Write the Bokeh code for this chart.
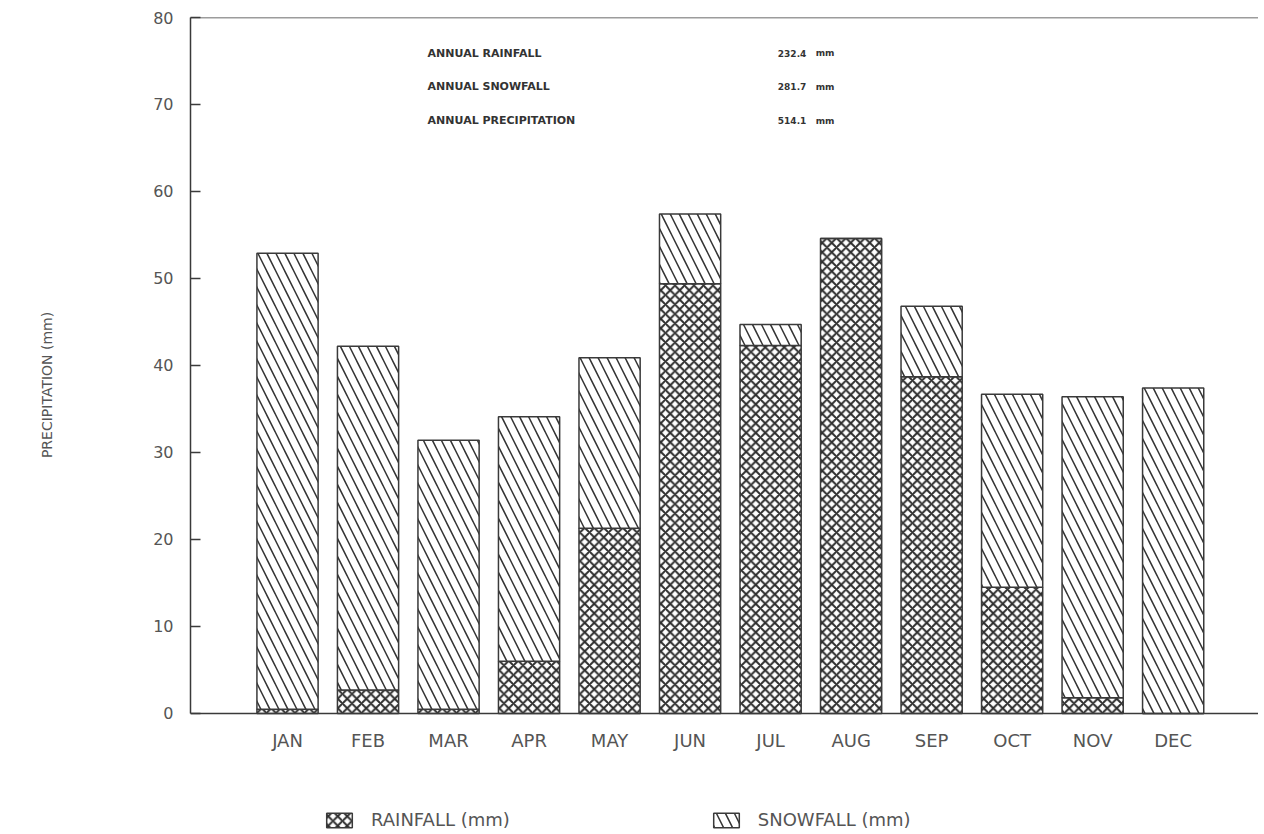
from bokeh.plotting import figure
from bokeh.models import (ColumnDataSource, Range1d, FixedTicker, Legend, LegendItem,
                          Label, Span)
from bokeh.core.properties import value
from bokeh.embed import file_html
from bokeh.resources import INLINE

# ---- data ----
months = ["JAN", "FEB", "MAR", "APR", "MAY", "JUN", "JUL", "AUG", "SEP", "OCT", "NOV", "DEC"]
rainfall = [0.5, 2.7, 0.5, 6.0, 21.3, 49.4, 42.3, 54.6, 38.7, 14.5, 1.8, 0.0]
snowfall = [52.4, 39.5, 30.9, 28.1, 19.6, 8.0, 2.4, 0.0, 8.1, 22.2, 34.6, 37.4]
y_ticks = [0, 10, 20, 30, 40, 50, 60, 70, 80]
annual_names = ["ANNUAL RAINFALL", "ANNUAL SNOWFALL", "ANNUAL PRECIPITATION"]
annual_values = ["232.4", "281.7", "514.1"]
annual_unit = "mm"

xs = list(range(len(months)))
totals = [r + s for r, s in zip(rainfall, snowfall)]
src = ColumnDataSource(dict(x=xs, month=months, rain=rainfall, snow=snowfall, total=totals,
                            zero=[0] * len(xs)))

FONT = "DejaVu Sans"
INK = "#3a3a3a"
TXT = "#555555"

p = figure(frame_width=1068, frame_height=815, output_backend="svg", toolbar_location=None,
           x_range=Range1d(-1.205, 12.06), y_range=Range1d(-13.68, 80),
           min_border_left=190, min_border_right=0, min_border_top=17,
           min_border_bottom=0)
p.outline_line_color = None
p.grid.visible = False
p.xaxis.visible = False
p.background_fill_color = "white"
p.border_fill_color = "white"

r_rain = p.vbar(x="x", bottom="zero", top="rain", width=0.76, source=src,
                fill_color="white", line_color=INK, line_width=1.5,
                hatch_pattern="x", hatch_scale=9.5, hatch_weight=2.0, hatch_color="#2e2e2e")
r_snow = p.vbar(x="x", bottom="rain", top="total", width=0.76, source=src,
                fill_color="white", line_color=INK, line_width=1.5,
                hatch_pattern="\\", hatch_scale=18, hatch_weight=1.5, hatch_color="#333333")

# frame lines: top border and baseline (x axis line)
p.add_layout(Span(location=80, dimension="width", line_color=INK, line_width=1.5))
p.add_layout(Span(location=0, dimension="width", line_color=INK, line_width=1.5))

# month labels under the baseline
p.text(x="x", y="zero", text="month", source=src, text_font=value(FONT),
       text_font_size="18px", text_color=TXT, text_align="center",
       text_baseline="top", y_offset=17)

# y axis
yax = p.yaxis[0]
yax.bounds = (0, 80)
yax.ticker = FixedTicker(ticks=y_ticks)
yax.major_tick_in = 10
yax.major_tick_out = 0
yax.minor_tick_line_color = None
yax.axis_line_color = INK
yax.axis_line_width = 1.5
yax.major_tick_line_color = INK
yax.major_tick_line_width = 1.5
yax.major_label_text_font = FONT
yax.major_label_text_font_size = "16px"
yax.major_label_text_color = TXT
yax.major_label_standoff = 17
# leading no-break spaces lift the centred title onto the middle of the 0-80 span
yax.axis_label = "\u00a0" * 18 + "PRECIPITATION (mm)"
yax.axis_label_text_font = FONT
yax.axis_label_text_font_size = "14px"
yax.axis_label_text_font_style = "normal"
yax.axis_label_text_color = TXT
yax.axis_label_standoff = 95

# annual summary text
name_ys = [75.9, 72.05, 68.15]
for name, val, yy in zip(annual_names, annual_values, name_ys):
    p.add_layout(Label(x=1.74, y=yy, text=name, text_font=FONT, text_font_size="11px",
                       text_font_style="bold", text_color="#333333",
                       text_baseline="middle", text_align="left"))
    for txt, xx in ((val, 6.09), (annual_unit, 6.56)):
        p.add_layout(Label(x=xx, y=yy, text=txt, text_font=FONT, text_font_size="9px",
                           text_font_style="bold", text_color="#333333",
                           text_baseline="middle", text_align="left"))

legend = Legend(items=[LegendItem(label="RAINFALL (mm)", renderers=[r_rain]),
                       LegendItem(label="SNOWFALL (mm)", renderers=[r_snow])],
                orientation="horizontal", location=(133, 2),
                glyph_width=32, glyph_height=18, label_standoff=16, spacing=200,
                padding=0, margin=0, border_line_color=None, background_fill_alpha=0,
                label_text_font=FONT, label_text_font_size="18px", label_text_color=TXT)
p.add_layout(legend, "center")

open("out.html", "w").write(file_html(p, INLINE))
